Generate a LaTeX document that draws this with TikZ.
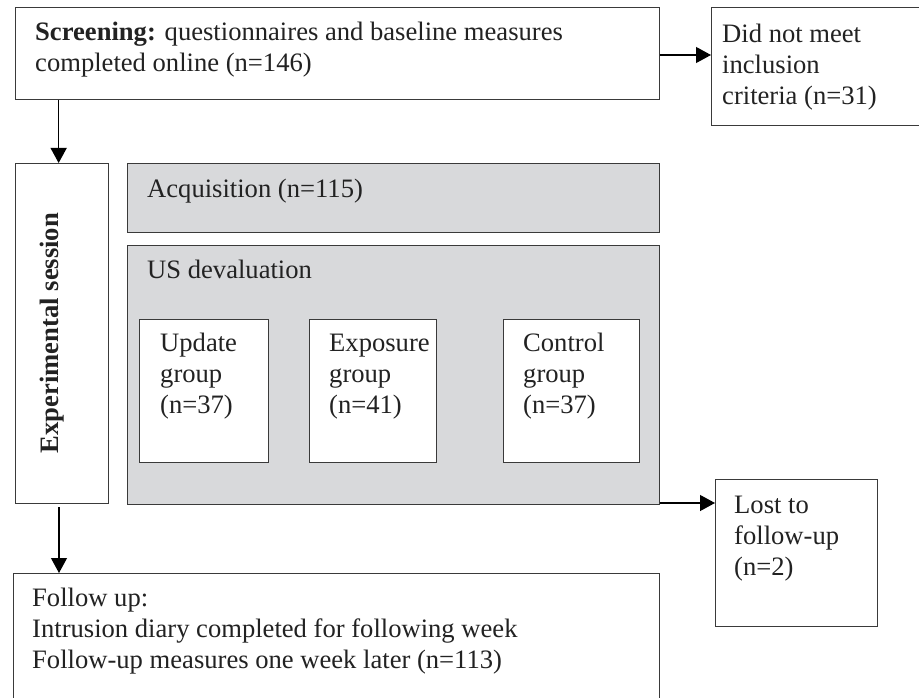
\documentclass[tikz,border=0pt]{standalone}
\usepackage{fontspec}
\setmainfont{Liberation Serif}
\usetikzlibrary{arrows.meta}
\definecolor{edge}{HTML}{3A3A3A}
\definecolor{shade}{HTML}{D8D9DB}
\definecolor{ink}{HTML}{222222}
\begin{document}
\begin{tikzpicture}[x=1pt,y=-1pt,
  box/.style={draw=edge, line width=1.3pt, fill=white, inner sep=0pt, anchor=north west, rectangle},
  gbox/.style={box, fill=shade},
  txt/.style={anchor=base west, inner sep=0pt, align=left, text=ink, font=\fontsize{26.6}{31}\selectfont},
  arr/.style={-{Triangle[length=15pt,width=16pt]}, line width=1.2pt, draw=black}]
\useasboundingbox (0,0) rectangle (919,698);
% boxes
\node[box, minimum width=644pt, minimum height=92pt] (scr) at (15,7) {};
\node[box, minimum width=214pt, minimum height=118pt] (dnm) at (711,7) {};
\node[box, minimum width=93pt, minimum height=340pt] (exp) at (15,163) {};
\node[gbox, minimum width=532pt, minimum height=69pt] (acq) at (127,163) {};
\node[gbox, minimum width=532pt, minimum height=259pt] (usd) at (127,245) {};
\node[box, minimum width=129pt, minimum height=143pt] (upd) at (139,319) {};
\node[box, minimum width=127pt, minimum height=143pt] (expo) at (309,319) {};
\node[box, minimum width=136pt, minimum height=143pt] (ctl) at (503,319) {};
\node[box, minimum width=162pt, minimum height=147pt] (lost) at (715,479) {};
\node[box, minimum width=646pt, minimum height=140pt] (fol) at (13,573) {};
% texts (anchor = baseline of the last line)
\node[txt] (tscr) at (35,72) {\textbf{Screening:} questionnaires and baseline measures\\completed online (n=146)};
\node[txt] (tdnm) at (722,105) {Did not meet\\inclusion\\criteria (n=31)};
\node[txt, rotate=90, anchor=center, font=\fontsize{26.6}{31}\selectfont\bfseries] (texp) at (52,333) {Experimental session};
\node[txt] (tacq) at (147,197) {Acquisition (n=115)};
\node[txt] (tusd) at (147,278) {US devaluation};
\node[txt] (tupd) at (160,413) {Update\\group\\(n=37)};
\node[txt] (texpo) at (329,413) {Exposure\\group\\(n=41)};
\node[txt] (tctl) at (523,413) {Control\\group\\(n=37)};
\node[txt] (tlost) at (734,575) {Lost to\\follow-up\\(n=2)};
\node[txt] (tfol) at (32,668) {Follow up:\\Intrusion diary completed for following week\\Follow-up measures one week later (n=113)};
% connectors
\draw[arr] (scr.east |- 0,55) -- (dnm.west |- 0,55);
\draw[arr] (scr.south -| exp.north) ++(-3.5,0) coordinate (s1) -- (s1 |- exp.north);
\draw[arr] (usd.east |- 0,503) -- (lost.west |- 0,503);
\draw[arr] (59,507) coordinate (e1) -- (e1 |- fol.north);
\end{tikzpicture}
\end{document}
